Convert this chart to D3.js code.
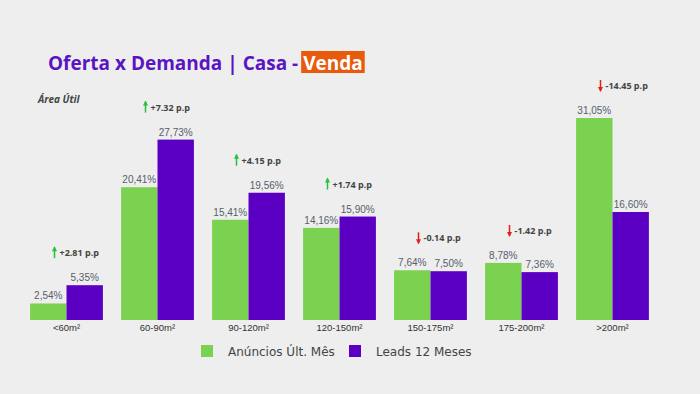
<!DOCTYPE html>
<meta charset="utf-8">
<style>
    body { margin: 0; background: #eeeeee; }
    svg { display: block; }
    .val { font-family: "Liberation Sans", Arial, sans-serif; font-size: 10px; fill: #56606b; }
    .xlab { font-family: "Liberation Sans", Arial, sans-serif; font-size: 9.5px; fill: #333; }
    .delta { font-family: "Open Sans", sans-serif; font-size: 9px; font-weight: bold; fill: #444; }
    .legend text { font-family: "DejaVu Sans", Verdana, sans-serif; font-size: 12px; fill: #444; }
</style>
<svg id="svg" width="700" height="394"></svg>
<script src="https://cdn.jsdelivr.net/npm/d3@7"></script>
<script>

    // chart data
    var categories = ["<60m²", "60-90m²", "90-120m²", "120-150m²", "150-175m²", "175-200m²", ">200m²"];
    var anuncios = [2.54, 20.41, 15.41, 14.16, 7.64, 8.78, 31.05];
    var leads = [5.35, 27.73, 19.56, 15.90, 7.50, 7.36, 16.60];
    var seriesNames = ["Anúncios Últ. Mês", "Leads 12 Meses"];
    var colors = ["#7bd150", "#5b00c2"];

    var svg = d3.select("svg"),
        width = +svg.attr("width"),
        height = +svg.attr("height");

    svg.append("rect").attr("width", width).attr("height", height).attr("fill", "#eeeeee");

    // title
    var title = svg.append("text")
        .attr("x", 48).attr("y", 70)
        .style("font-family", "'Open Sans', sans-serif")
        .style("font-size", "19px")
        .style("font-weight", "bold")
        .attr("fill", "#5a14c4");
    title.append("tspan").text("Oferta x Demanda | Casa - ");
    var venda = title.append("tspan").attr("fill", "#fff").text("Venda");

    // orange box behind "Venda"
    var tlen = title.node().getComputedTextLength();
    var vlen = venda.node().getComputedTextLength();
    svg.insert("rect", "text")
        .attr("x", 48 + tlen - vlen - 2)
        .attr("y", 51)
        .attr("width", vlen + 4)
        .attr("height", 22)
        .attr("fill", "#e85a0c");

    svg.append("text")
        .attr("x", 38).attr("y", 103)
        .style("font-family", "'Open Sans', sans-serif")
        .style("font-size", "10px")
        .style("font-weight", "bold")
        .style("font-style", "italic")
        .attr("fill", "#444")
        .text("Área Útil");

    // scales
    var x0 = d3.scaleBand().domain(categories).range([21, 658]).paddingInner(0.2).paddingOuter(0.1);
    var x1 = d3.scaleBand().domain([0, 1]).range([0, x0.bandwidth()]);
    var y = d3.scaleLinear().domain([0, 31.05]).range([320, 118]);

    var fmt = function (v) { return v.toFixed(2).replace(".", ",") + "%"; };

    var groups = svg.append("g").selectAll("g")
        .data(categories)
        .enter().append("g")
        .attr("transform", function (d) { return "translate(" + x0(d) + ",0)"; });

    groups.each(function (cat, i) {
        var g = d3.select(this);
        var vals = [anuncios[i], leads[i]];
        vals.forEach(function (v, s) {
            g.append("rect")
                .attr("x", x1(s))
                .attr("y", y(v))
                .attr("width", x1.bandwidth())
                .attr("height", y(0) - y(v))
                .attr("fill", colors[s]);
            g.append("text")
                .attr("class", "val")
                .attr("x", x1(s) + x1.bandwidth() / 2)
                .attr("y", y(v) - 4)
                .attr("text-anchor", "middle")
                .text(fmt(v));
        });

        g.append("text")
            .attr("class", "xlab")
            .attr("x", x0.bandwidth() / 2)
            .attr("y", 331)
            .attr("text-anchor", "middle")
            .text(cat);

        // delta annotation (p.p difference)
        var delta = leads[i] - anuncios[i];
        var up = delta >= 0;
        var ay = y(Math.max(vals[0], vals[1])) - 32;
        var ax = x0.bandwidth() / 2 - 12;
        var col = up ? "#22c33a" : "#e0201c";
        g.append("line")
            .attr("x1", ax).attr("x2", ax)
            .attr("y1", ay - 6).attr("y2", ay + 5)
            .attr("stroke", col).attr("stroke-width", 1.5);
        if (up) {
            g.append("path")
                .attr("d", "M" + (ax - 2.5) + "," + (ay - 2) + "L" + ax + "," + (ay - 7) + "L" + (ax + 2.5) + "," + (ay - 2) + "Z")
                .attr("fill", col);
        } else {
            g.append("path")
                .attr("d", "M" + (ax - 2.5) + "," + (ay + 1) + "L" + ax + "," + (ay + 6) + "L" + (ax + 2.5) + "," + (ay + 1) + "Z")
                .attr("fill", col);
        }
        g.append("text")
            .attr("class", "delta")
            .attr("x", ax + 5)
            .attr("y", ay + 3)
            .text((up ? "+" : "") + delta.toFixed(2) + " p.p");
    });

    // legend
    var legend = svg.append("g").attr("class", "legend");
    var lx = [201, 349];
    seriesNames.forEach(function (n, s) {
        legend.append("rect")
            .attr("x", lx[s]).attr("y", 345)
            .attr("width", 12).attr("height", 12)
            .attr("fill", colors[s]);
        legend.append("text")
            .attr("x", lx[s] + 27).attr("y", 356)
            .text(n);
    });

</script>
